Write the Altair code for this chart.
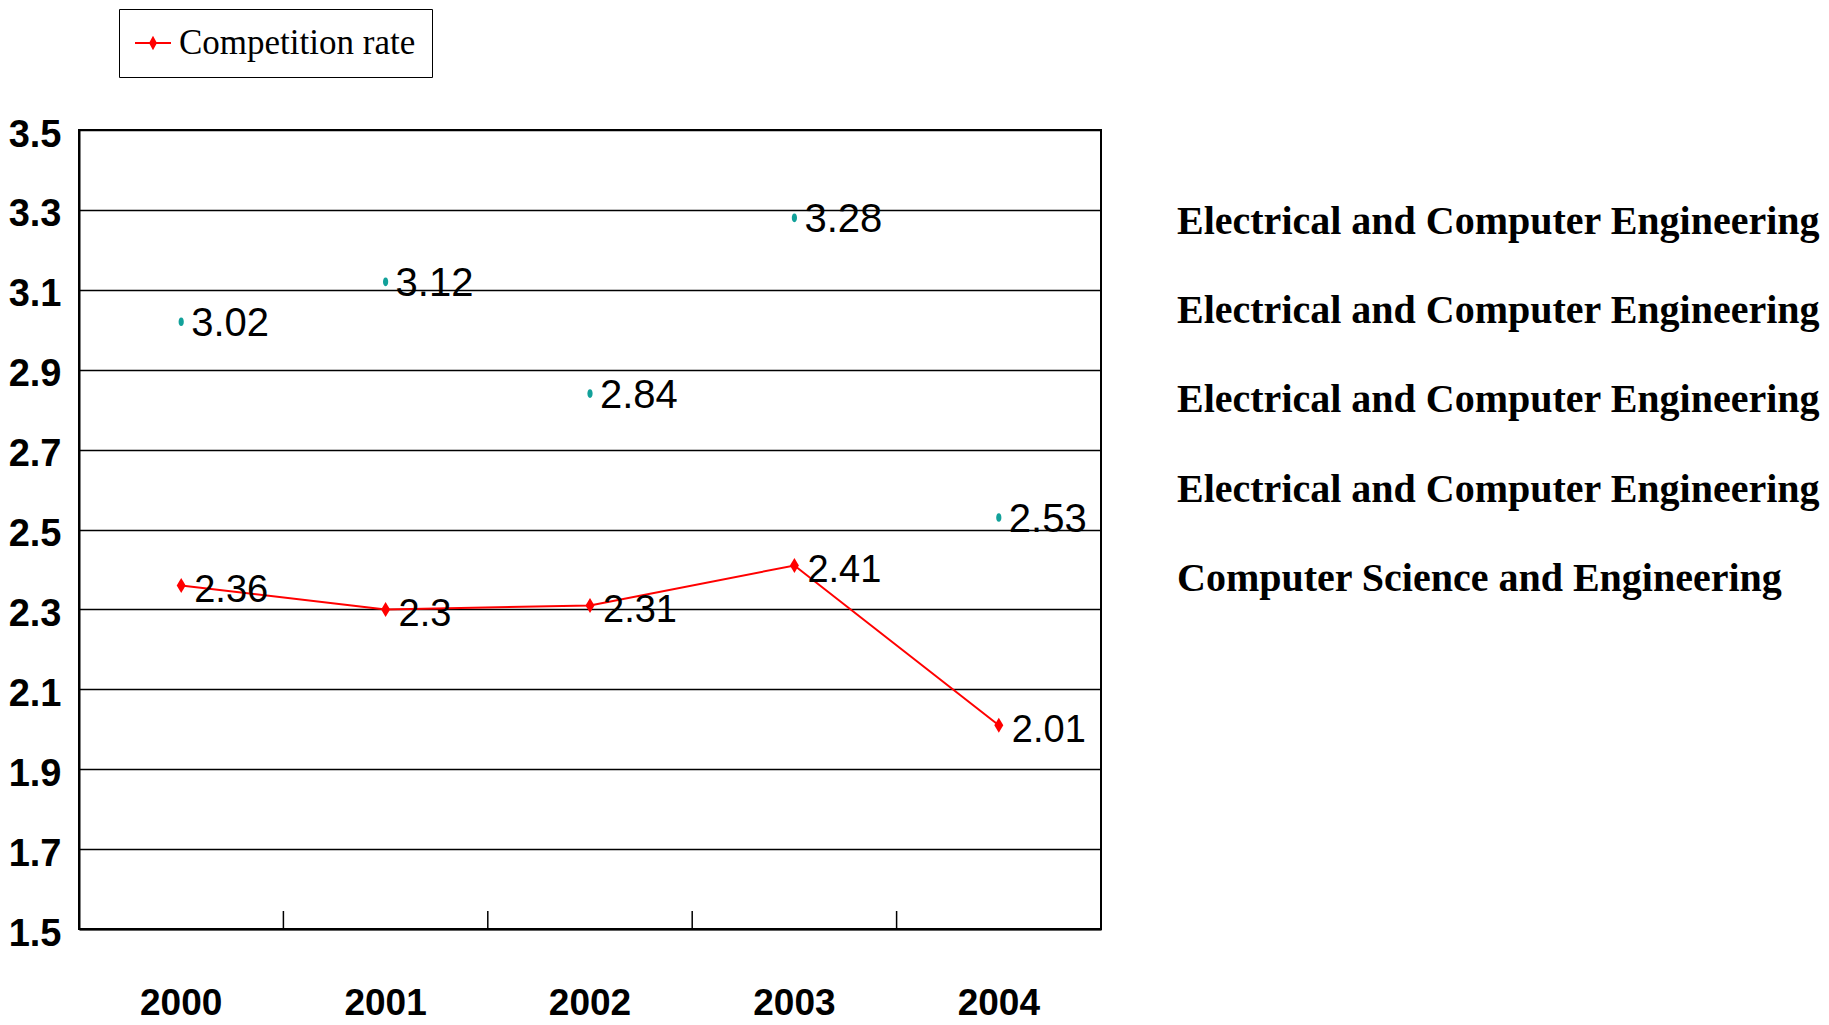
import altair as alt
import pandas as pd

years = ["2000", "2001", "2002", "2003", "2004"]
rate = [2.36, 2.3, 2.31, 2.41, 2.01]
rate_labels = ["2.36", "2.3", "2.31", "2.41", "2.01"]
teal = [3.02, 3.12, 2.84, 3.28, 2.53]
teal_labels = ["3.02", "3.12", "2.84", "3.28", "2.53"]
depts = [
    "Electrical and Computer Engineering",
    "Electrical and Computer Engineering",
    "Electrical and Computer Engineering",
    "Electrical and Computer Engineering",
    "Computer Science and Engineering",
]
y_ticks = [1.5, 1.7, 1.9, 2.1, 2.3, 2.5, 2.7, 2.9, 3.1, 3.3, 3.5]
series_name = "Competition rate"

SANS = "Liberation Sans, Arial, sans-serif"
W, H = 1022, 799

rate_df = pd.DataFrame({"year": years, "rate": rate, "label": rate_labels,
                        "series": [series_name] * len(years)})
teal_df = pd.DataFrame({"year": years, "value": teal, "label": teal_labels})
tick_df = pd.DataFrame({"year": years[1:], "y0": [1.5] * 4, "y1": [1.545] * 4})
dept_df = pd.DataFrame({"idx": list(range(len(depts))), "dept": depts})

xscale = alt.Scale(domain=years, paddingInner=0, paddingOuter=0)
yscale = alt.Scale(domain=[1.5, 3.5], nice=False, zero=False)

x_enc = alt.X("year:N", scale=xscale, title=None,
              axis=alt.Axis(labelAngle=0, ticks=False, domain=True, domainColor="black",
                            domainWidth=2, labelFont=SANS, labelFontWeight="bold",
                            labelFontSize=37, labelColor="black", labelPadding=74,
                            bandPosition=0.5, labelAlign="center"))

y_axis = alt.Axis(values=y_ticks, format=".1f", grid=True, gridColor="black",
                  gridWidth=1.5, gridOpacity=1, domainColor="black", domainWidth=2,
                  ticks=False, labelFont=SANS, labelFontWeight="bold",
                  labelFontSize=38, labelColor="black", labelPadding=18, labelOffset=5)

line = alt.Chart(rate_df).mark_line(color="#FF0000", strokeWidth=2).encode(
    x=x_enc,
    y=alt.Y("rate:Q", scale=yscale, axis=y_axis, title=None),
)

legend_path = "M-1,-0.06L1,-0.06L1,0.06L-1,0.06Z M0,-0.4L0.22,0L0,0.4L-0.22,0Z"
pts = alt.Chart(rate_df).mark_point(
    shape="M0,-1L0.6,0L0,1L-0.6,0Z", size=225, filled=True, opacity=1
).encode(
    x=alt.X("year:N", scale=xscale),
    y=alt.Y("rate:Q", scale=yscale),
    color=alt.Color("series:N", scale=alt.Scale(range=["#FF0000"]),
                    legend=alt.Legend(title=None, orient="none", legendX=40, legendY=-121,
                                      symbolType=legend_path, symbolSize=1296,
                                      symbolFillColor="#FF0000", symbolStrokeWidth=0,
                                      labelFont="Liberation Serif", labelFontSize=35,
                                      labelLimit=500,
                                      labelColor="black", labelOffset=8, padding=16,
                                      strokeColor="black", fillColor="white")),
)

rate_text = alt.Chart(rate_df).mark_text(
    align="left", baseline="middle", dx=13, dy=6, font=SANS, fontSize=38, color="black"
).encode(x=alt.X("year:N", scale=xscale), y=alt.Y("rate:Q", scale=yscale), text="label:N")

teal_pts = alt.Chart(teal_df).mark_point(
    shape="M0,-1C0.8,-1 0.8,1 0,1C-0.8,1 -0.8,-1 0,-1Z", size=75, filled=True,
    color="#12A19A", opacity=1
).encode(x=alt.X("year:N", scale=xscale), y=alt.Y("value:Q", scale=yscale))

teal_text = alt.Chart(teal_df).mark_text(
    align="left", baseline="middle", dx=10, dy=2, font=SANS, fontSize=40,
    color="black"
).encode(x=alt.X("year:N", scale=xscale), y=alt.Y("value:Q", scale=yscale), text="label:N")

ticks = alt.Chart(tick_df).mark_rule(color="black", strokeWidth=1.5).encode(
    x=alt.X("year:N", scale=xscale, bandPosition=0),
    y=alt.Y("y0:Q", scale=yscale),
    y2="y1:Q",
)

main = alt.layer(ticks, line, pts, rate_text, teal_pts, teal_text)

dept_text = alt.Chart(dept_df).mark_text(
    align="left", baseline="middle", font="Liberation Serif", fontWeight="bold",
    fontSize=40, color="black"
).encode(
    x=alt.value(1098),
    y=alt.Y("idx:Q", scale=alt.Scale(domain=[-1.031, 7.926], reverse=True, nice=False,
                                     zero=False), axis=None),
    text="dept:N",
)

chart = alt.layer(main, dept_text).resolve_scale(y="independent").properties(
    width=W, height=H, padding={"left": 0, "top": 0, "right": 0, "bottom": 0}
).configure_view(stroke="black", strokeWidth=2)

chart.save("out.html", embed_options={"renderer": "svg", "actions": False})
